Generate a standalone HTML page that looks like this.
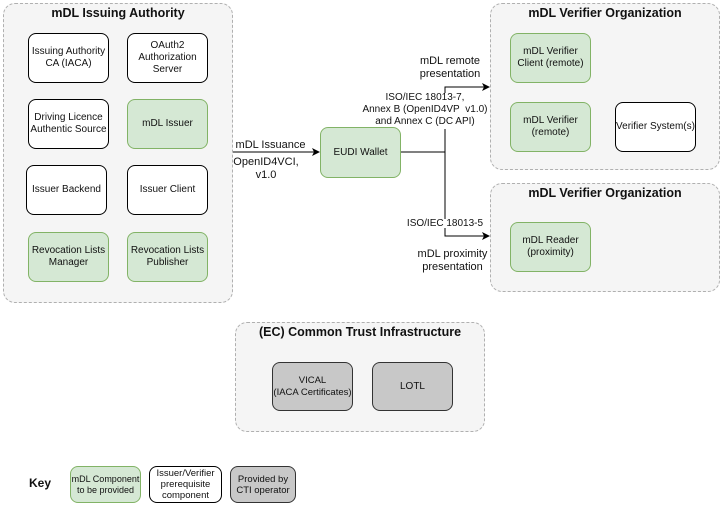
<!DOCTYPE html>
<html><head><style>
body{margin:0;width:723px;height:515px;background:#fff;position:relative;font-family:"Liberation Sans",Arial,sans-serif;overflow:hidden}
.c{position:absolute;background:#f5f5f5;border:1px dashed #b0b0b0;border-radius:12px;box-sizing:border-box}
.t{position:absolute;font-weight:bold;font-size:12.5px;text-align:center;color:#111}
.b{position:absolute;box-sizing:border-box;border:1px solid #000;border-radius:8px;background:#fff;display:flex;align-items:center;justify-content:center;text-align:center;font-size:10px;line-height:12px;color:#111;white-space:nowrap}
.g{background:#d5e8d4;border-color:#82b366}
.y{background:#c8c8c8;border-color:#333}
.l{position:absolute;font-size:11px;text-align:center;line-height:13px;color:#111;white-space:nowrap}
</style></head><body>
<div class="c" style="left:3px;top:3px;width:230px;height:300px"></div>
<div class="t" style="left:3px;top:6px;width:230px">mDL Issuing Authority</div>
<div class="b" style="left:28px;top:33px;width:81px;height:50px">Issuing Authority<br>CA (IACA)</div>
<div class="b" style="left:127px;top:33px;width:81px;height:50px">OAuth2<br>Authorization<br>Server</div>
<div class="b" style="left:28px;top:99px;width:81px;height:50px">Driving Licence<br>Authentic Source</div>
<div class="b g" style="left:127px;top:99px;width:81px;height:50px">mDL Issuer</div>
<div class="b" style="left:26px;top:165px;width:81px;height:50px">Issuer Backend</div>
<div class="b" style="left:127px;top:165px;width:81px;height:50px">Issuer Client</div>
<div class="b g" style="left:28px;top:232px;width:81px;height:50px">Revocation Lists<br>Manager</div>
<div class="b g" style="left:127px;top:232px;width:81px;height:50px">Revocation Lists<br>Publisher</div>

<div class="c" style="left:490px;top:3px;width:230px;height:167px"></div>
<div class="t" style="left:490px;top:6px;width:230px">mDL Verifier Organization</div>
<div class="b g" style="left:510px;top:33px;width:81px;height:50px">mDL Verifier<br>Client (remote)</div>
<div class="b g" style="left:510px;top:102px;width:81px;height:50px">mDL Verifier<br>(remote)</div>
<div class="b" style="left:615px;top:102px;width:81px;height:50px">Verifier System(s)</div>

<div class="c" style="left:490px;top:183px;width:230px;height:109px"></div>
<div class="t" style="left:490px;top:186px;width:230px">mDL Verifier Organization</div>
<div class="b g" style="left:510px;top:222px;width:81px;height:50px">mDL Reader<br>(proximity)</div>

<div class="c" style="left:235px;top:322px;width:250px;height:110px"></div>
<div class="t" style="left:235px;top:325px;width:250px">(EC) Common Trust Infrastructure</div>
<div class="b y" style="left:272px;top:362px;width:81px;height:49px;font-size:9.5px">VICAL<br>(IACA Certificates)</div>
<div class="b y" style="left:372px;top:362px;width:81px;height:49px">LOTL</div>

<div class="b g" style="left:320px;top:127px;width:81px;height:51px">EUDI Wallet</div>

<svg style="position:absolute;left:0;top:0" width="723" height="515">
<defs><marker id="a" markerWidth="8" markerHeight="8" refX="7" refY="4" orient="auto" markerUnits="userSpaceOnUse"><path d="M0,0 L8,4 L0,8 L2,4z" fill="#000"/></marker></defs>
<g stroke="#000" stroke-width="1" fill="none">
<line x1="233" y1="152" x2="319" y2="152" marker-end="url(#a)"/>
<line x1="401" y1="152" x2="445" y2="152"/>
<path d="M445,93 V87 H489" marker-end="url(#a)"/>
<path d="M445,129 V219"/>
<path d="M445,228 V236 H489" marker-end="url(#a)"/>
</g>
</svg>
<div class="l" style="left:233px;top:139px;width:75px">mDL Issuance</div>
<div class="l" style="left:228px;top:156px;width:76px">OpenID4VCI,<br>v1.0</div>
<div class="l" style="left:410px;top:55px;width:80px">mDL remote<br>presentation</div>
<div class="l" style="left:360px;top:92px;width:130px;font-size:10px;line-height:12px">ISO/IEC 18013-7,<br>Annex B (OpenID4VP&nbsp; v1.0)<br>and Annex C (DC API)</div>
<div class="l" style="left:400px;top:217px;width:90px;font-size:10px">ISO/IEC 18013-5</div>
<div class="l" style="left:410px;top:248px;width:85px">mDL proximity<br>presentation</div>

<div class="l" style="left:25px;top:477px;width:30px;font-weight:bold;font-size:12px">Key</div>
<div class="b g" style="left:70px;top:466px;width:71px;height:37px;font-size:9px;line-height:11px">mDL Component<br>to be provided</div>
<div class="b" style="left:149px;top:466px;width:73px;height:37px;font-size:9.5px;line-height:11px">Issuer/Verifier<br>prerequisite<br>component</div>
<div class="b y" style="left:230px;top:466px;width:66px;height:37px;font-size:9.5px;line-height:11px">Provided by<br>CTI operator</div>
</body></html>
